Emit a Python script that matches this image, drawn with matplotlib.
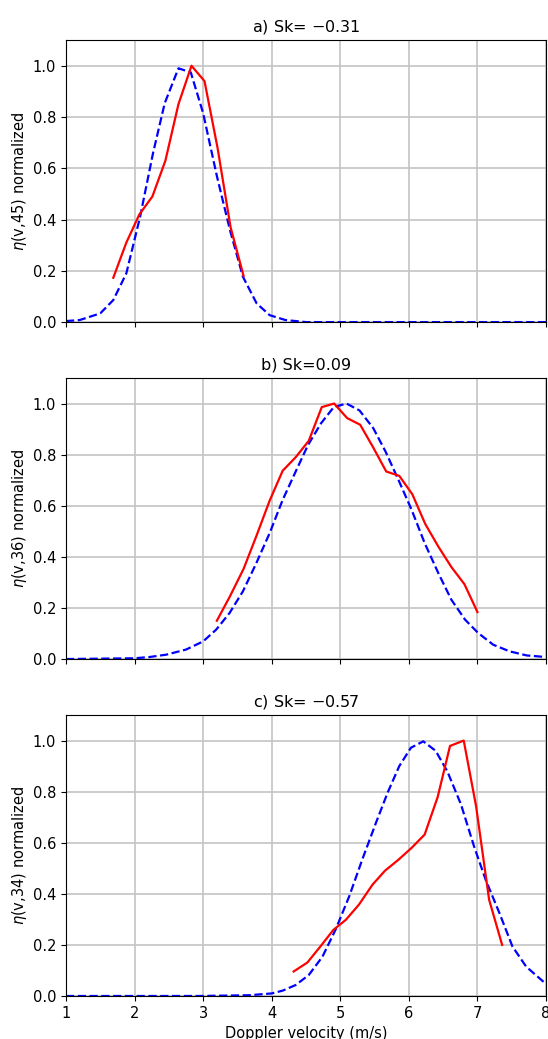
import matplotlib
matplotlib.use('Agg')
import matplotlib.pyplot as plt

# a) Sk = -0.31
a_obs_x = [1.69, 1.88, 2.07, 2.26, 2.45, 2.64, 2.83, 3.02, 3.21, 3.40, 3.59]
a_obs_y = [0.173, 0.31, 0.42, 0.49, 0.63, 0.85, 1.0, 0.94, 0.68, 0.37, 0.18]
a_fit_x = [1.0, 1.2, 1.5, 1.69, 1.88, 2.08, 2.27, 2.44, 2.64, 2.82, 3.0, 3.2, 3.39,
           3.58, 3.78, 3.97, 4.2, 4.5, 5.0, 6.0, 7.0, 8.0]
a_fit_y = [0.004, 0.008, 0.034, 0.086, 0.19, 0.41, 0.66, 0.854, 0.99, 0.974, 0.815,
           0.57, 0.36, 0.177, 0.073, 0.027, 0.008, 0.0, 0.0, 0.0, 0.0, 0.0]

# b) Sk = 0.09
b_obs_x = [3.20, 3.39, 3.59, 3.78, 3.97, 4.16, 4.35, 4.54, 4.73, 4.91, 5.10, 5.29,
           5.48, 5.67, 5.86, 6.05, 6.24, 6.43, 6.62, 6.81, 7.00]
b_obs_y = [0.15, 0.245, 0.353, 0.484, 0.62, 0.737, 0.79, 0.854, 0.986, 1.0, 0.943,
           0.917, 0.828, 0.734, 0.717, 0.645, 0.528, 0.44, 0.36, 0.293, 0.184]
b_fit_x = [1.0, 2.0, 2.22, 2.46, 2.75, 3.0, 3.19, 3.385, 3.58, 3.775, 3.97, 4.16,
           4.36, 4.53, 4.72, 4.905, 5.09, 5.28, 5.48, 5.66, 5.85, 6.04, 6.23, 6.43,
           6.62, 6.82, 7.01, 7.23, 7.47, 7.72, 7.99]
b_fit_y = [0.0, 0.003, 0.008, 0.017, 0.037, 0.069, 0.115, 0.18, 0.265, 0.375, 0.493,
           0.623, 0.74, 0.838, 0.923, 0.986, 1.0, 0.973, 0.904, 0.812, 0.70, 0.584,
           0.454, 0.336, 0.232, 0.154, 0.102, 0.056, 0.03, 0.014, 0.008]

# c) Sk = -0.57
c_obs_x = [4.32, 4.52, 4.71, 4.90, 5.08, 5.27, 5.47, 5.65, 5.85, 6.04, 6.23, 6.42,
           6.60, 6.80, 6.98, 7.17, 7.36]
c_obs_y = [0.096, 0.131, 0.194, 0.259, 0.298, 0.357, 0.436, 0.49, 0.534, 0.58, 0.632,
           0.779, 0.979, 1.0, 0.743, 0.377, 0.20]
c_fit_x = [1.0, 2.0, 2.94, 3.67, 4.0, 4.16, 4.35, 4.54, 4.74, 4.93, 5.13, 5.32, 5.52,
           5.69, 5.86, 6.03, 6.21, 6.39, 6.56, 6.76, 6.95, 7.12, 7.32, 7.51, 7.71, 8.0]
c_fit_y = [0.0, 0.0, 0.0, 0.003, 0.01, 0.021, 0.043, 0.082, 0.154, 0.259, 0.39, 0.534,
           0.678, 0.796, 0.90, 0.972, 0.997, 0.96, 0.88, 0.75, 0.586, 0.455, 0.325,
           0.194, 0.115, 0.047]

titles = ['a) Sk= $-$0.31', 'b) Sk=0.09', 'c) Sk= $-$0.57']
ylabels = [r'$\eta$(v,45) normalized', r'$\eta$(v,36) normalized', r'$\eta$(v,34) normalized']

panels = [(a_obs_x, a_obs_y, a_fit_x, a_fit_y),
          (b_obs_x, b_obs_y, b_fit_x, b_fit_y),
          (c_obs_x, c_obs_y, c_fit_x, c_fit_y)]

fig = plt.figure(figsize=(5.48, 10.39), dpi=100)
# axes boxes in figure fraction (left, bottom, width, height)
boxes = [[0.1204, 0.690, 0.876, 0.2714],
         [0.1204, 0.3657, 0.876, 0.2705],
         [0.1204, 0.0414, 0.876, 0.2704]]

for i, (ox, oy, fx, fy) in enumerate(panels):
    ax = fig.add_axes(boxes[i])
    ax.plot(fx, fy, color='blue', linestyle='--', linewidth=1.6)
    ax.plot(ox, oy, color='red', linewidth=1.6)
    ax.set_xlim(1, 8)
    ax.set_ylim(0, 1.1)
    ax.set_yticks([0.0, 0.2, 0.4, 0.6, 0.8, 1.0])
    ax.set_xticks([1, 2, 3, 4, 5, 6, 7, 8])
    ax.grid(True, color='#c4c4c4', linewidth=1.2)
    ax.tick_params(labelsize=10.5)
    ax.set_title(titles[i], fontsize=11.5)
    ax.set_ylabel(ylabels[i], fontsize=10.5, labelpad=3)
    if i < 2:
        ax.set_xticklabels([])
    else:
        ax.set_xlabel('Doppler velocity (m/s)', fontsize=10.5)

fig.savefig('out.png', dpi=100)
